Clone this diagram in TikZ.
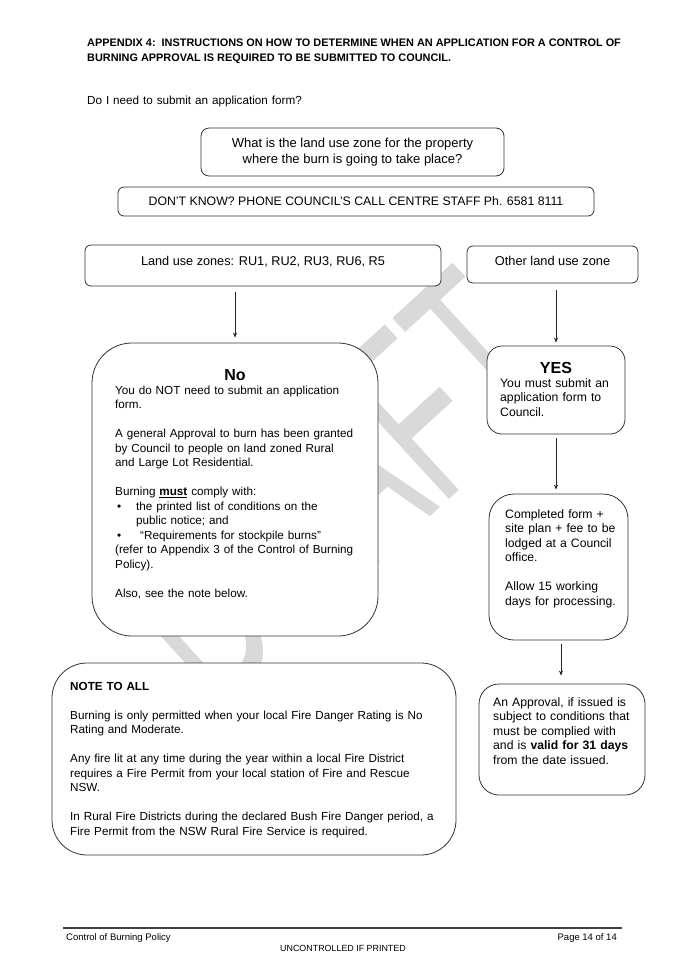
\documentclass[tikz,border=0pt]{standalone}
\usepackage{fontspec}
\setmainfont{Liberation Sans}
\usetikzlibrary{arrows.meta,calc}
\begin{document}
\begin{tikzpicture}[x=1pt,y=-1pt,
  box/.style={draw=black!80, line width=0.8pt, fill=white, rectangle, inner sep=0pt},
  body/.style={inner sep=0pt, align=left, anchor=base west, text width=#1,
    font=\fontsize{11.7}{14.5}\selectfont},
  body/.default=300pt,
  rbody/.style={body=#1, font=\fontsize{12.2}{14.5}\selectfont},
  head/.style={inner sep=0pt, anchor=base, font=\fontsize{16}{18}\selectfont\bfseries},
  arr/.style={-{Stealth[length=5pt,width=4pt]}, line width=0.7pt, draw=black!85},
  foot/.style={inner sep=0pt, font=\fontsize{9.5}{11}\selectfont},
]
\useasboundingbox[fill=white] (0,0) rectangle (685,970);

% watermark
\node[anchor=base west, rotate=42.5, xscale=0.58, text=black!15, inner sep=0pt,
  font=\fontsize{250}{250}\selectfont] (wm) at (215,714) {DRAFT};

% title
\node[inner sep=0pt, anchor=base west, align=left,
  font=\fontsize{10.9}{15}\selectfont\bfseries] (title) at (87,61)
  {APPENDIX 4:\ \ INSTRUCTIONS ON HOW TO DETERMINE WHEN AN APPLICATION FOR A CONTROL OF\\
   BURNING APPROVAL IS REQUIRED TO BE SUBMITTED TO COUNCIL.};
\node[body] (ask) at (87,104) {Do I need to submit an application form?};

% top boxes
\node[box, rounded corners=8pt, minimum width=303pt, minimum height=48pt,
  align=center, font=\fontsize{13}{16}\selectfont] (q) at (352.5,152)
  {What is the land use zone for the property\\ where the burn is going to take place?};
\node[box, rounded corners=6pt, minimum width=476pt, minimum height=29pt,
  font=\fontsize{12.3}{16}\selectfont] (dk) at (356,201.5)
  {DON'T KNOW? PHONE COUNCIL'S CALL CENTRE STAFF Ph. 6581 8111};

\node[box, rounded corners=6pt, minimum width=356pt, minimum height=41pt] (zones) at (263,265.5) {};
\node[inner sep=0pt, anchor=base, font=\fontsize{12.7}{14}\selectfont] (zonest) at (263,265)
  {Land use zones: RU1, RU2, RU3, RU6, R5};
\node[box, rounded corners=6pt, minimum width=171pt, minimum height=37pt] (other) at (552.5,264.5) {};
\node[inner sep=0pt, anchor=base, font=\fontsize{12.8}{14}\selectfont] (othert) at (552.5,265.5)
  {Other land use zone};

% No box
\node[box, rounded corners=40pt, minimum width=286pt, minimum height=293pt] (no) at (235,489.5) {};
\node[head] (noh) at (235,380) {No};
\node[body=270pt] (not) at (115,394)
  {You do NOT need to submit an application\\
   form.\\[14.5pt]
   A general Approval to burn has been granted\\
   by Council to people on land zoned Rural\\
   and Large Lot Residential.\\[14.5pt]
   Burning \underline{\textbf{must}} comply with:\\
   \hspace*{2pt}\makebox[19pt][l]{•}the printed list of conditions on the\\
   \hspace*{21pt}public notice; and\\
   \hspace*{2pt}\makebox[19pt][l]{•}\hspace{4pt}“Requirements for stockpile burns”\\
   (refer to Appendix 3 of the Control of Burning\\
   Policy).\\[14.5pt]
   Also, see the note below.};

% YES box
\node[box, rounded corners=15pt, minimum width=138pt, minimum height=88pt] (yes) at (556,390) {};
\node[head] (yesh) at (556,373) {YES};
\node[rbody=130pt] (yest) at (500,387)
  {You must submit an\\ application form to\\ Council.};

% Completed box
\node[box, rounded corners=25pt, minimum width=139pt, minimum height=146pt] (comp) at (558.5,567) {};
\node[rbody=130pt] (compt) at (505,518)
  {Completed form +\\ site plan + fee to be\\ lodged at a Council\\ office.\\[14.5pt]
   Allow 15 working\\ days for processing.};

% Approval box
\node[box, rounded corners=20pt, minimum width=166pt, minimum height=111pt] (appr) at (562,739.5) {};
\node[rbody=160pt] (apprt) at (493,706)
  {An Approval, if issued is\\ subject to conditions that\\ must be complied with\\
   and is \textbf{valid for 31 days}\\ from the date issued.};

% Note box
\node[box, rounded corners=35pt, minimum width=404pt, minimum height=192pt] (note) at (254,759) {};
\node[body=380pt] (notet) at (70,690)
  {\textbf{NOTE TO ALL}\\[14.5pt]
   Burning is only permitted when your local Fire Danger Rating is No\\
   Rating and Moderate.\\[14.5pt]
   Any fire lit at any time during the year within a local Fire District\\
   requires a Fire Permit from your local station of Fire and Rescue\\
   NSW.\\[14.5pt]
   In Rural Fire Districts during the declared Bush Fire Danger period, a\\
   Fire Permit from the NSW Rural Fire Service is required.};

% arrows
\draw[arr, shorten <=6pt, shorten >=5pt] (no.north |- zones.south) -- (no.north);
\draw[arr, shorten <=7pt, shorten >=3pt] (yes.north |- other.south) -- (yes.north);
\draw[arr, shorten <=4pt, shorten >=4pt] (yes.south) -- (yes.south |- comp.north);
\draw[arr, shorten <=4pt, shorten >=8pt] ([xshift=2.5pt]comp.south) -- ([xshift=2.5pt]comp.south |- appr.north);

% footer
\coordinate (fl) at (63,928);
\coordinate (fr) at (622,928);
\draw[line width=1.1pt, draw=black!75] (fl) -- (fr);
\node[foot, anchor=base west] (f1) at (66,940) {Control of Burning Policy};
\node[foot, anchor=base east] (f2) at (617,940) {Page 14 of 14};
\node[foot, anchor=base, font=\fontsize{8.9}{10}\selectfont] (f3) at (343,951) {UNCONTROLLED IF PRINTED};
\end{tikzpicture}
\end{document}
